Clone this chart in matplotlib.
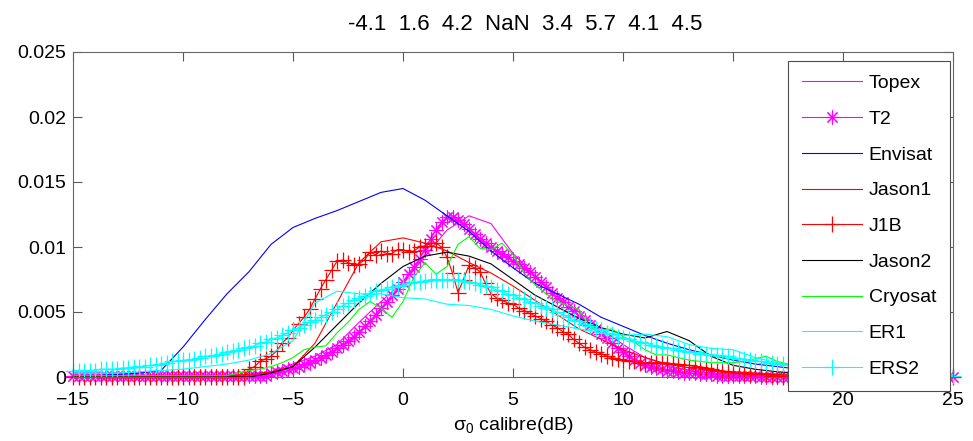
import numpy as np
import matplotlib.pyplot as plt

plt.rcParams['font.family'] = ['Liberation Sans', 'DejaVu Sans']
plt.rcParams['mathtext.fontset'] = 'custom'
plt.rcParams['mathtext.rm'] = 'Liberation Sans'

# sampling grids (dB)
x_coarse = np.arange(-15, 25.5, 1.0)    # 41 points
x_half = np.arange(-15, 25.25, 0.5)     # 81 points
x_fine = np.arange(-15, 25.125, 0.25)   # 161 points

# line-only series, read at 1 dB steps
topex = [0, 0, 0, 0, 0, 0, 0, 0, 0.0001,
         0.0004, 0.0010, 0.0016, 0.0025, 0.0042, 0.0058, 0.0073, 0.0093, 0.0113, 0.0124,
         0.0118, 0.0095, 0.0078, 0.0063, 0.0050, 0.0037, 0.0025, 0.0015, 0.0009, 0.0005,
         0.0003, 0.0002, 0.0001,
         0.0001, 0.0001, 0, 0, 0, 0, 0, 0, 0]
envisat = [0.0001, 0.0001, 0.0002, 0.0003, 0.0005, 0.0023, 0.0044, 0.0064, 0.0081, 0.0102,
           0.0115, 0.0122, 0.0128, 0.0135, 0.0142, 0.0145, 0.0136, 0.0124, 0.0112, 0.0097,
           0.0084, 0.0072, 0.0064, 0.0056, 0.0046, 0.0039, 0.0032, 0.0026, 0.0021, 0.0017,
           0.0013, 0.0010, 0.0008, 0.0006, 0.0005, 0.0004, 0.0003, 0.0002, 0.0002, 0.0001,
           0.0001]
jason1 = [0, 0, 0, 0, 0, 0, 0.0001,
          0.0001, 0.0002, 0.0004, 0.0008, 0.0026, 0.0057, 0.0088, 0.0104, 0.0107, 0.0103,
          0.0097, 0.0088, 0.0080, 0.0070, 0.0059, 0.0048, 0.0037, 0.0029, 0.0021, 0.0015,
          0.0010, 0.0007, 0.0005, 0.0004, 0.0003, 0.0002,
          0.0001, 0.0001, 0.0001, 0.0001, 0, 0, 0, 0]
jason2 = [0, 0, 0, 0, 0, 0, 0, 0, 0,
          0.0003, 0.0008, 0.0023, 0.0040, 0.0057, 0.0072, 0.0085, 0.0093, 0.0096, 0.0093,
          0.0087, 0.0075, 0.0063, 0.0054, 0.0045, 0.0038, 0.0033, 0.0030, 0.0035, 0.0028,
          0.0016, 0.0009, 0.0006, 0.0004, 0.0003, 0.0002, 0.0001,
          0, 0, 0, 0, 0]
er1 = [0.0003, 0.0003, 0.0003, 0.0004, 0.0005, 0.0006, 0.0008, 0.0010, 0.0013, 0.0018,
       0.0028, 0.0057, 0.0066, 0.0064, 0.0064, 0.0061, 0.0060, 0.0056, 0.0055, 0.0052,
       0.0047, 0.0043, 0.0040, 0.0037, 0.0034, 0.0032, 0.0033, 0.0031, 0.0025, 0.0022,
       0.0021, 0.0015, 0.0011, 0.0008, 0.0006, 0.0005, 0.0004, 0.0003, 0.0003, 0.0002,
       0.0002]

# Cryosat (noisy), read at 0.5 dB steps
cryosat = [0.0001] * 15 + [
    0.0003, 0.0005, 0.0006, 0.0008, 0.0011, 0.0015, 0.0021, 0.0023, 0.0024, 0.0034,
    0.0042, 0.0052, 0.0058, 0.0053, 0.0046, 0.0058, 0.0077, 0.0088, 0.0079, 0.0085,
    0.0102, 0.0108, 0.0099, 0.0098, 0.0103, 0.0094, 0.0080, 0.0071, 0.0064, 0.0058,
    0.0055, 0.0052, 0.0038, 0.0036, 0.0037, 0.0031, 0.0027, 0.0021, 0.0017, 0.0017,
    0.0015, 0.0013, 0.0012, 0.0011, 0.0011, 0.0011, 0.0012, 0.0014, 0.0016, 0.0012,
    0.0010, 0.0008, 0.0007, 0.0006, 0.0005, 0.0004, 0.0004, 0.0003, 0.0003, 0.0003,
    0.0002, 0.0002, 0.0002, 0.0001, 0.0001, 0.0001]

# marker series, read at 0.25 dB steps (one row = 2 dB)
t2 = [0.0001] * 36 + [
    0.0003, 0.0004, 0.0005, 0.0006, 0.0007, 0.0008, 0.0010, 0.0011,   # -6
    0.0013, 0.0015, 0.0017, 0.0019, 0.0022, 0.0025, 0.0028, 0.0031,   # -4
    0.0035, 0.0039, 0.0043, 0.0048, 0.0053, 0.0058, 0.0063, 0.0068,   # -2
    0.0073, 0.0079, 0.0085, 0.0091, 0.0098, 0.0106, 0.0113, 0.0119,   # 0
    0.0123, 0.0123, 0.0121, 0.0118, 0.0114, 0.0110, 0.0106, 0.0103,   # 2
    0.0100, 0.0097, 0.0095, 0.0092, 0.0089, 0.0087, 0.0084, 0.0081,   # 4
    0.0077, 0.0073, 0.0069, 0.0065, 0.0061, 0.0058, 0.0054, 0.0051,   # 6
    0.0047, 0.0044, 0.0040, 0.0037, 0.0033, 0.0030, 0.0026, 0.0022,   # 8
    0.0019, 0.0016, 0.0013, 0.0011, 0.0009, 0.0008, 0.0007, 0.0006,   # 10
    0.0005, 0.0005, 0.0004, 0.0003, 0.0003, 0.0003, 0.0002, 0.0002,   # 12
    0.0002, 0.0001, 0.0001, 0.0001, 0.0001, 0.0001, 0.0001, 0.0001,   # 14
    0.0001] + [0] * 36
j1b = [0] * 32 + [
    0.0006, 0.0008, 0.0012, 0.0014, 0.0016, 0.0020, 0.0026, 0.0030,   # -7
    0.0036, 0.0041, 0.0046, 0.0052, 0.0060, 0.0068, 0.0075, 0.0082,   # -5
    0.0089, 0.0090, 0.0088, 0.0086, 0.0087, 0.0090, 0.0096, 0.0094,   # -3
    0.0097, 0.0095, 0.0095, 0.0098, 0.0098, 0.0096, 0.0097, 0.0100,   # -1
    0.0101, 0.0103, 0.0103, 0.0100, 0.0092, 0.0080, 0.0065, 0.0075,   # 1
    0.0086, 0.0084, 0.0081, 0.0072, 0.0064, 0.0061, 0.0059, 0.0057,   # 3
    0.0056, 0.0053, 0.0051, 0.0049, 0.0047, 0.0045, 0.0043, 0.0040,   # 5
    0.0038, 0.0035, 0.0033, 0.0029, 0.0026, 0.0023, 0.0021, 0.0019,   # 7
    0.0018, 0.0016, 0.0015, 0.0014, 0.0013, 0.0012, 0.0012, 0.0011,   # 9
    0.0011, 0.0011, 0.0011, 0.0011, 0.0011, 0.0010, 0.0010, 0.0009,   # 11
    0.0009, 0.0008, 0.0008, 0.0007, 0.0006, 0.0005, 0.0005, 0.0004,   # 13
    0.0004, 0.0003, 0.0003, 0.0002, 0.0002, 0.0002, 0.0002, 0.0001,   # 15
    0.0001] + [0] * 32
ers2 = [
    0.0005, 0.0005, 0.0005, 0.0005, 0.0005, 0.0006, 0.0006, 0.0006,   # -15
    0.0006, 0.0007, 0.0007, 0.0008, 0.0008, 0.0008, 0.0009, 0.0009,   # -13
    0.0010, 0.0011, 0.0012, 0.0012, 0.0013, 0.0013, 0.0014, 0.0015,   # -11
    0.0016, 0.0016, 0.0017, 0.0018, 0.0019, 0.0020, 0.0021, 0.0022,   # -9
    0.0023, 0.0024, 0.0026, 0.0027, 0.0029, 0.0030, 0.0032, 0.0034,   # -7
    0.0036, 0.0038, 0.0040, 0.0042, 0.0044, 0.0046, 0.0048, 0.0050,   # -5
    0.0052, 0.0055, 0.0057, 0.0059, 0.0061, 0.0062, 0.0064, 0.0066,   # -3
    0.0067, 0.0068, 0.0069, 0.0070, 0.0071, 0.0072, 0.0073, 0.0073,   # -1
    0.0074, 0.0075, 0.0075, 0.0075, 0.0075, 0.0075, 0.0075, 0.0074,   # 1
    0.0073, 0.0072, 0.0071, 0.0070, 0.0069, 0.0067, 0.0066, 0.0064,   # 3
    0.0063, 0.0061, 0.0060, 0.0058, 0.0057, 0.0055, 0.0053, 0.0052,   # 5
    0.0050, 0.0048, 0.0046, 0.0044, 0.0043, 0.0041, 0.0039, 0.0037,   # 7
    0.0036, 0.0034, 0.0033, 0.0031, 0.0030, 0.0029, 0.0028, 0.0027,   # 9
    0.0026, 0.0025, 0.0024, 0.0023, 0.0022, 0.0022, 0.0021, 0.0020,   # 11
    0.0019, 0.0019, 0.0018, 0.0018, 0.0017, 0.0017, 0.0016, 0.0016,   # 13
    0.0015, 0.0014, 0.0014, 0.0013, 0.0012, 0.0012, 0.0011, 0.0011,   # 15
    0.0010, 0.0010, 0.0009, 0.0009, 0.0008, 0.0008, 0.0007, 0.0007,   # 17
    0.0006, 0.0006, 0.0005, 0.0005, 0.0004, 0.0004, 0.0004, 0.0004,   # 19
    0.0003, 0.0003, 0.0003, 0.0003, 0.0002, 0.0002, 0.0002, 0.0002,   # 21
    0.0002, 0.0002, 0.0001, 0.0001, 0.0001, 0.0001, 0.0001, 0.0001,   # 23
    0.0001]

title_txt = '-4.1  1.6  4.2  NaN  3.4  5.7  4.1  4.5'
x_ticks = [-15, -10, -5, 0, 5, 10, 15, 20, 25]
y_ticks = [0, 0.005, 0.01, 0.015, 0.02, 0.025]
y_ticklabels = ['0', '0.005', '0.01', '0.015', '0.02', '0.025']

fig = plt.figure(figsize=(9.73, 4.41), dpi=100)
ax = fig.add_axes([73 / 973, 64 / 441, 880 / 973, 325 / 441])

lw = 0.8
MAG, BLU, RED, GRN, CYN = '#ff00ff', '#0000ff', '#ff0000', '#00ff00', '#00ffff'
ax.plot(x_coarse, topex, color=MAG, lw=lw, label='Topex', clip_on=False)
ax.plot(x_fine, t2, color=MAG, lw=lw, marker=(8, 2, 0), ms=10, mew=0.8,
        label='T2', clip_on=False)
ax.plot(x_coarse, envisat, color=BLU, lw=lw, label='Envisat', clip_on=False)
ax.plot(x_coarse, jason1, color=RED, lw=lw, label='Jason1', clip_on=False)
ax.plot(x_fine, j1b, color=RED, lw=lw, marker='+', ms=11, mew=0.9,
        label='J1B', clip_on=False)
ax.plot(x_coarse, jason2, color='k', lw=lw, label='Jason2', clip_on=False)
ax.plot(x_half, cryosat, color=GRN, lw=lw, label='Cryosat', clip_on=False)
ax.plot(x_coarse, er1, color=CYN, lw=lw, label='ER1', clip_on=False)
ax.plot(x_fine, ers2, color=CYN, lw=lw, marker='+', ms=11, mew=0.9,
        label='ERS2', clip_on=False)

ax.set_xlim(-15, 25)
ax.set_ylim(0, 0.025)
ax.set_xticks(x_ticks)
ax.set_yticks(y_ticks)
ax.set_yticklabels(y_ticklabels)
ax.tick_params(direction='in', length=6.3, width=0.8, color='0.35',
               top=True, right=True, labelsize=14)
ax.tick_params(axis='y', pad=5)
ax.tick_params(axis='x', pad=11)
for s in ax.spines.values():
    s.set_color('0.4')
    s.set_linewidth(0.8)

ax.set_xlabel(r'$\mathregular{\sigma_0}$ calibre(dB)', fontsize=14, labelpad=4)
fig.text(525 / 973, 1 - 24 / 441, title_txt, ha='center', va='center', fontsize=16)

leg = ax.legend(loc='upper left', bbox_to_anchor=(0.8125, 0.9723), borderaxespad=0,
                fontsize=14, fancybox=False, framealpha=1, edgecolor='0.3',
                handlelength=3.1, handletextpad=0.35, labelspacing=0.93,
                borderpad=0.7, numpoints=1)
leg.get_frame().set_linewidth(0.8)
leg.set_zorder(10)

plt.savefig('out.png', dpi=100)
